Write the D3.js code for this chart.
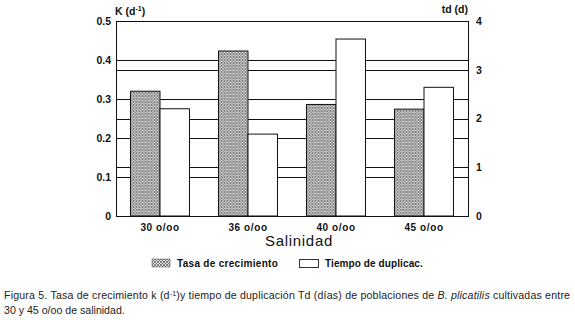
<!DOCTYPE html>
<html>
<head>
<meta charset="utf-8">
<script src="https://cdn.jsdelivr.net/npm/d3@7"></script>
<style>
  body { margin: 0; background: #fff; }
  svg { display: block; font-family: "Liberation Sans", Arial, sans-serif; }
  .tick-lbl { font-size: 10.5px; font-weight: bold; fill: #111; }
  .cat { font-size: 10px; font-weight: bold; fill: #111; letter-spacing: 0.6px; }
</style>
</head>
<body>
<div id="chart"></div>
<script>
// Datos: tasa de crecimiento k (d-1) y tiempo de duplicación td (d)
const salinidad = ["30 o/oo", "36 o/oo", "40 o/oo", "45 o/oo"];
const tasaK     = [0.32, 0.423, 0.286, 0.274];
const tiempoTd  = [2.2, 1.68, 3.63, 2.64];
const ticksK    = [0, 0.1, 0.2, 0.3, 0.4, 0.5];
const ticksTd   = [0, 1, 2, 3, 4];

(() => {
const width = 575, height = 320;
const pl = 116, pr = 468, pt = 21, pb = 216;

const svg = d3.select("#chart").append("svg")
  .attr("width", width).attr("height", height);

// trama cruzada para la barra de tasa
const defs = svg.append("defs");
const pat = defs.append("pattern")
  .attr("id", "hatch").attr("patternUnits", "userSpaceOnUse")
  .attr("width", 3).attr("height", 3);
pat.append("rect").attr("width", 3).attr("height", 3).attr("fill", "#e2e2e2");
pat.append("path").attr("d", "M0,0 L3,3 M3,0 L0,3")
  .attr("stroke", "#555").attr("stroke-width", 0.7);

// escalas
const x0 = d3.scaleBand().domain(salinidad).range([pl, pr])
  .paddingInner(0.33).paddingOuter(0.165);
const x1 = d3.scaleBand().domain(["k", "td"]).range([0, x0.bandwidth()]);
const yK  = d3.scaleLinear().domain([0, 0.5]).range([pb, pt]);
const yTd = d3.scaleLinear().domain([0, 4]).range([pb, pt]);

// líneas horizontales de ambos ejes (detrás de las barras)
const grid = svg.append("g").attr("stroke", "#111").attr("stroke-width", 1);
grid.selectAll("line.gk").data(ticksK.slice(1, -1)).join("line")
  .attr("class", "gk")
  .attr("x1", pl).attr("x2", pr)
  .attr("y1", d => Math.round(yK(d)) + 0.5).attr("y2", d => Math.round(yK(d)) + 0.5);
grid.selectAll("line.gt").data(ticksTd.slice(1, -1)).join("line")
  .attr("class", "gt")
  .attr("x1", pl).attr("x2", pr)
  .attr("y1", d => Math.round(yTd(d)) + 0.5).attr("y2", d => Math.round(yTd(d)) + 0.5);

// barras
const rows = salinidad.map((s, i) => ({ s, k: tasaK[i], td: tiempoTd[i] }));
const grp = svg.selectAll("g.grp").data(rows).join("g")
  .attr("class", "grp")
  .attr("transform", d => `translate(${x0(d.s)},0)`);

grp.append("rect")
  .attr("x", x1("k")).attr("width", x1.bandwidth())
  .attr("y", d => yK(d.k)).attr("height", d => pb - yK(d.k))
  .attr("fill", "url(#hatch)").attr("stroke", "#111").attr("stroke-width", 1);

grp.append("rect")
  .attr("x", x1("td")).attr("width", x1.bandwidth())
  .attr("y", d => yTd(d.td)).attr("height", d => pb - yTd(d.td))
  .attr("fill", "#fff").attr("stroke", "#111").attr("stroke-width", 1);

// marco
svg.append("rect")
  .attr("x", pl + 0.5).attr("y", pt + 0.5)
  .attr("width", pr - pl).attr("height", pb - pt)
  .attr("fill", "none").attr("stroke", "#111").attr("stroke-width", 1);

// eje izquierdo
svg.append("g").attr("transform", `translate(${pl},0)`)
  .call(d3.axisLeft(yK).tickValues(ticksK).tickSize(0).tickPadding(5)
    .tickFormat(d => d === 0 ? "0" : d3.format(".1f")(d)))
  .call(g => g.select(".domain").remove())
  .selectAll("text").attr("class", "tick-lbl").attr("font-family", null).attr("font-size", null);

// eje derecho
svg.append("g").attr("transform", `translate(${pr},0)`)
  .call(d3.axisRight(yTd).tickValues(ticksTd).tickSize(0).tickPadding(8)
    .tickFormat(d3.format("d")))
  .call(g => g.select(".domain").remove())
  .selectAll("text").attr("class", "tick-lbl").attr("font-family", null).attr("font-size", null);

// categorías
svg.append("g").attr("transform", `translate(0,${pb})`)
  .call(d3.axisBottom(x0).tickSize(0).tickPadding(8))
  .call(g => g.select(".domain").remove())
  .selectAll("text").attr("class", "cat").attr("font-family", null).attr("font-size", null);

// títulos de ejes
const kt = svg.append("text").attr("x", pl - 1).attr("y", 15)
  .attr("class", "tick-lbl").style("font-size", "10.5px");
kt.append("tspan").text("K (d");
kt.append("tspan").attr("dy", -4).style("font-size", "7px").text("-1");
kt.append("tspan").attr("dy", 4).text(")");

svg.append("text").attr("x", pr).attr("y", 13).attr("text-anchor", "end")
  .attr("class", "tick-lbl").text("td (d)");

svg.append("text").attr("x", 299).attr("y", 246).attr("text-anchor", "middle")
  .style("font-size", "15px").style("letter-spacing", "0.7px")
  .attr("fill", "#111").text("Salinidad");

// leyenda
const leg = svg.append("g").attr("transform", "translate(152,259)");
leg.append("rect").attr("width", 18).attr("height", 8)
  .attr("fill", "url(#hatch)").attr("stroke", "#555").attr("stroke-width", 0.5);
leg.append("text").attr("x", 25).attr("y", 8).attr("class", "cat")
  .style("letter-spacing", "0.3px").text("Tasa de crecimiento");
leg.append("rect").attr("x", 147.5).attr("y", 0.5).attr("width", 19).attr("height", 8)
  .attr("fill", "#fff").attr("stroke", "#333").attr("stroke-width", 1);
leg.append("text").attr("x", 173).attr("y", 8).attr("class", "cat")
  .style("letter-spacing", "0.1px").text("Tiempo de duplicac.");

// pie de figura
const cap = svg.append("text").attr("x", 4).attr("y", 299)
  .attr("textLength", 566).attr("lengthAdjust", "spacing")
  .style("font-size", "10.6px").attr("fill", "#222");
cap.append("tspan").text("Figura 5. Tasa de crecimiento k (d");
cap.append("tspan").attr("dy", -3).style("font-size", "7px").text("-1");
cap.append("tspan").attr("dy", 3).text(")y tiempo de duplicación Td (días) de poblaciones de ");
cap.append("tspan").style("font-style", "italic").text("B. plicatilis");
cap.append("tspan").text(" cultivadas entre");
svg.append("text").attr("x", 4).attr("y", 314)
  .style("font-size", "10.6px").attr("fill", "#222")
  .text("30 y 45 o/oo de salinidad.");
})();
</script>
</body>
</html>
